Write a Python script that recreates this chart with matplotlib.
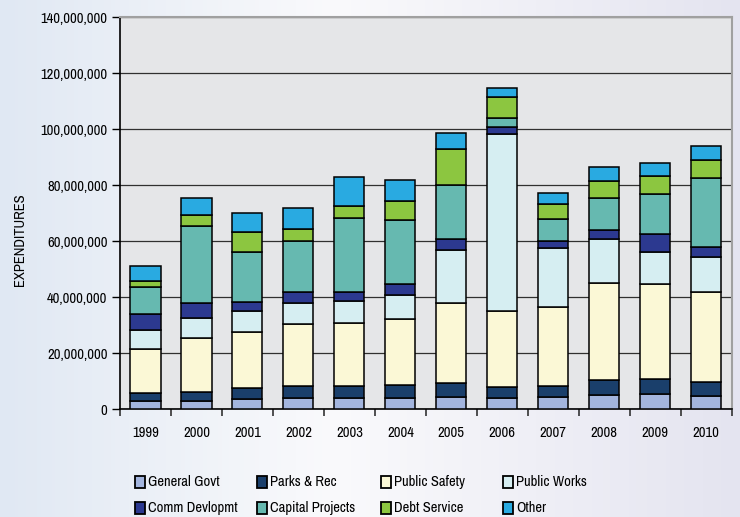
import numpy as np
import matplotlib
matplotlib.use("Agg")
import matplotlib.pyplot as plt
from matplotlib.patches import Rectangle
from matplotlib.ticker import FuncFormatter
from matplotlib import font_manager as fm

years = ['1999', '2000', '2001', '2002', '2003', '2004', '2005', '2006',
         '2007', '2008', '2009', '2010']
series_names = ['General Govt', 'Parks & Rec', 'Public Safety', 'Public Works',
                'Comm Devlopmt', 'Capital Projects', 'Debt Service', 'Other']
colors = ['#a3b5de', '#1a3f6b', '#fbf8d6', '#d6eef2',
          '#2c3990', '#66b9b0', '#8cc640', '#29aae1']

# values in millions of dollars
general_govt = [3.1, 3.1, 3.7, 4.0, 3.9, 4.0, 4.3, 4.1, 4.3, 5.0, 5.5, 4.7]
parks_rec = [2.8, 3.2, 4.0, 4.4, 4.4, 4.7, 5.0, 4.0, 4.0, 5.6, 5.4, 5.1]
public_safety = [15.5, 19.1, 20.0, 22.1, 22.4, 23.4, 28.5, 26.9, 28.3, 34.5, 33.8, 32.0]
public_works = [6.8, 7.3, 7.5, 7.6, 8.0, 8.6, 19.0, 63.4, 20.8, 15.5, 11.3, 12.4]
comm_devlopmt = [5.8, 5.3, 3.1, 3.8, 3.0, 3.9, 3.8, 2.3, 2.5, 3.3, 6.4, 3.6]
capital_projects = [9.5, 27.3, 17.7, 18.1, 26.5, 23.1, 19.4, 3.3, 7.9, 11.4, 14.6, 24.9]
debt_service = [2.4, 3.9, 7.3, 4.4, 4.4, 6.6, 13.0, 7.4, 5.4, 6.0, 6.1, 6.4]
other = [5.4, 6.2, 6.9, 7.6, 10.2, 7.4, 5.6, 3.1, 3.9, 5.0, 4.8, 5.0]

yticks = [0, 20e6, 40e6, 60e6, 80e6, 100e6, 120e6, 140e6]

series = [general_govt, parks_rec, public_safety, public_works,
          comm_devlopmt, capital_projects, debt_service, other]

# pick a condensed font if one is installed
font_kw = dict(family=['Liberation Sans', 'DejaVu Sans'])
fsize = 9.0
names = {(f.name, f.stretch) for f in fm.fontManager.ttflist}
cond = [n for n, s in names if ('Condensed' in n or 'Narrow' in n)]
cond_stretch = [n for n, s in names if s in ('condensed', 'semi-condensed', 'extra-condensed')]
if cond:
    pref = sorted(cond, key=lambda n: (0 if 'Narrow' in n else 1, n))[0]
    font_kw = dict(family=[pref, 'DejaVu Sans'])
    fsize = 10.5
elif cond_stretch:
    font_kw = dict(family=[cond_stretch[0], 'DejaVu Sans'], stretch='condensed')
    fsize = 10.0
plt.rcParams['font.family'] = font_kw['family']
if 'stretch' in font_kw:
    plt.rcParams['font.stretch'] = font_kw['stretch']

fig = plt.figure(figsize=(7.4, 5.17), dpi=100)

# background gradient
bg = fig.add_axes([0, 0, 1, 1], zorder=-10)
w = 200
xs = np.linspace(0, 1, w)
left = np.array([224, 232, 243]) / 255
mid = np.array([250, 250, 252]) / 255
right = np.array([228, 228, 240]) / 255
grad = np.zeros((1, w, 3))
for i, t in enumerate(xs):
    if t < 0.45:
        f = t / 0.45
        grad[0, i] = left * (1 - f) + mid * f
    else:
        f = (t - 0.45) / 0.55
        grad[0, i] = mid * (1 - f) + right * f
bg.imshow(grad, aspect='auto', extent=[0, 1, 0, 1])
bg.set_axis_off()

ax = fig.add_axes([120 / 740, 1 - 409.3 / 517, (731.7 - 120) / 740, (409.3 - 17) / 517])
ax.set_facecolor('#e5e6e8')

x = np.arange(len(years))
bottom = np.zeros(len(years))
for name, vals, c in zip(series_names, series, colors):
    v = np.array(vals) * 1e6
    ax.bar(x, v, width=0.59, bottom=bottom, color=c, edgecolor='black',
           linewidth=1.1, zorder=3, label=name)
    bottom += v

ax.set_xlim(-0.5, len(years) - 0.5)
ax.set_ylim(0, 140e6)
ax.set_yticks(yticks)
ax.yaxis.set_major_formatter(FuncFormatter(lambda v, p: f"{int(v):,}"))
ax.yaxis.grid(True, color='#303030', linewidth=0.9, zorder=1)
ax.set_axisbelow(True)

ax.set_xticks(x)
ax.set_xticklabels(years)
ax.set_xticks(np.arange(-0.5, len(years)), minor=True)
ax.tick_params(axis='x', which='major', length=0, pad=12, labelsize=fsize)
ax.tick_params(axis='x', which='minor', length=5, width=1.2, direction='out', color='#333333')
ax.tick_params(axis='y', length=6, width=1.0, direction='out', labelsize=fsize, pad=3)

for s in ['left', 'bottom']:
    ax.spines[s].set_color('black')
    ax.spines[s].set_linewidth(1.2)
for s in ['top', 'right']:
    ax.spines[s].set_color('#a0a0a0')
    ax.spines[s].set_linewidth(1.5)

fig.text(20 / 740, 1 - 240 / 517, 'EXPENDITURES', rotation=90, ha='center', va='center',
         fontsize=fsize)

# legend
col_x = [135, 257, 381, 503]
row_y = [482, 508]
for i, (name, c) in enumerate(zip(series_names, colors)):
    cx = col_x[i % 4]
    cy = row_y[i // 4]
    fig.patches.append(Rectangle((cx / 740, 1 - (cy + 6) / 517), 10 / 740, 12 / 517,
                                 transform=fig.transFigure, facecolor=c,
                                 edgecolor='black', linewidth=1.3))
    fig.text((cx + 13) / 740, 1 - cy / 517, name, ha='left', va='center', fontsize=fsize)

fig.savefig('out.png', dpi=100)
